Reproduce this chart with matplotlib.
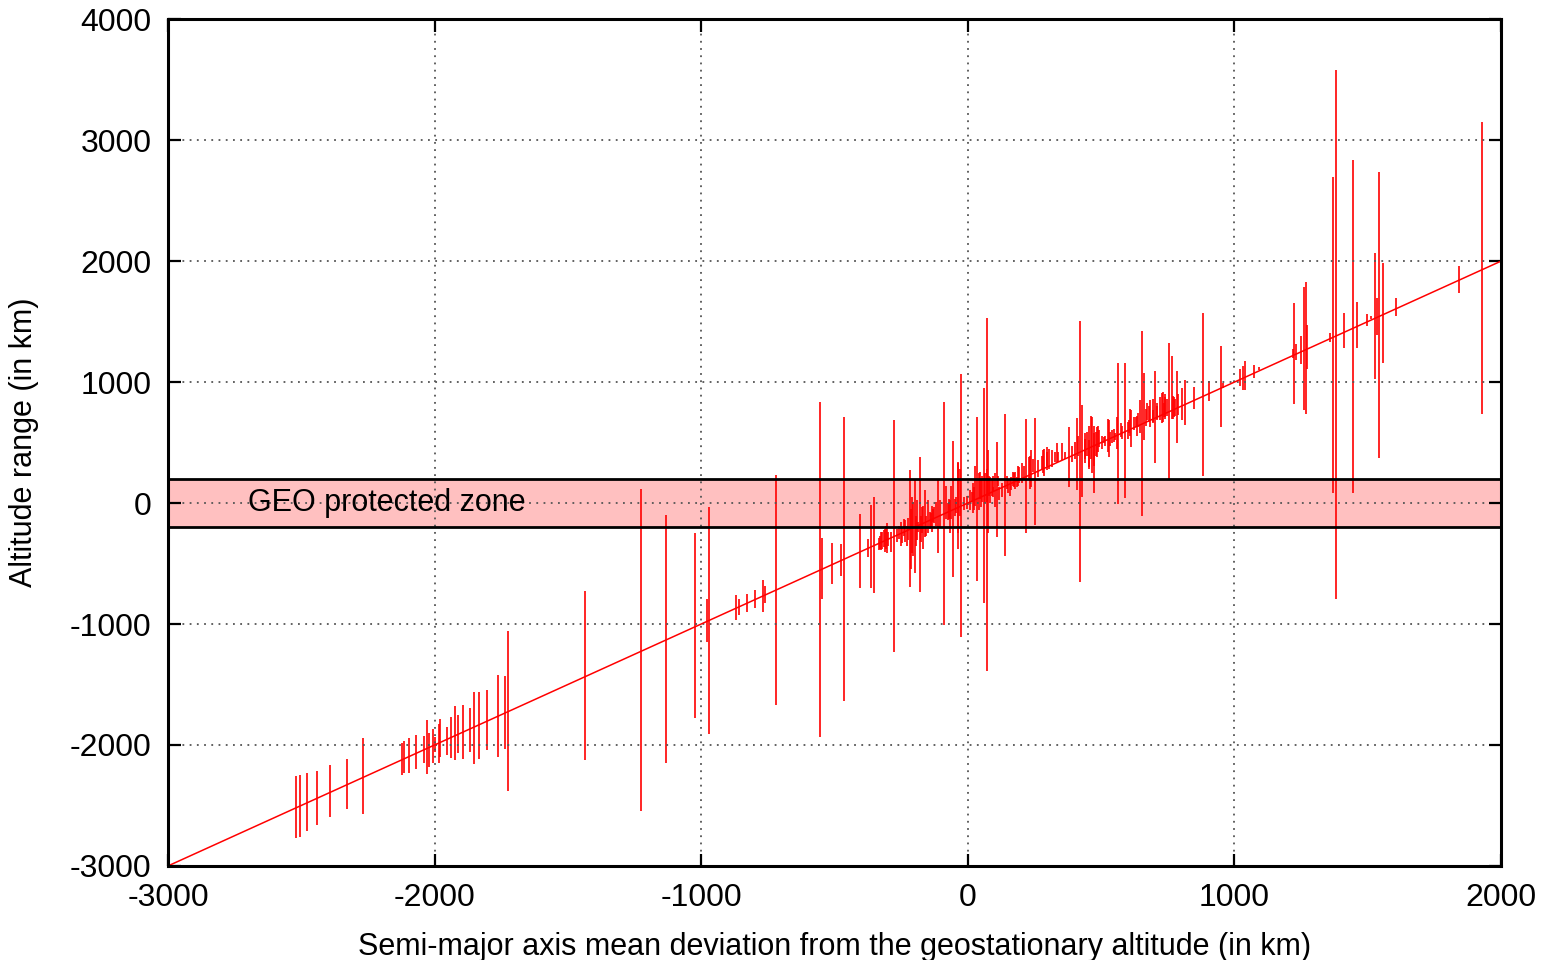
import matplotlib
matplotlib.use("Agg")
import matplotlib.pyplot as plt

plt.rcParams['font.family'] = ['Liberation Sans', 'DejaVu Sans']
plt.rcParams['axes.unicode_minus'] = False

# --- data ---
# vertical bars: x position, lower and upper altitude (km)
bar_x = [-2521, -2506, -2479, -2440, -2391, -2329, -2267, -2122, -2113, -2097,
         -2069, -2039, -2029, -2020, -2007, -2000, -1982, -1978, -1954, -1939,
         -1922, -1914, -1894, -1867, -1853, -1833, -1803, -1761, -1735, -1724,
         -1435, -1227, -1133, -1023, -978, -972, -869, -860, -830, -799,
         -770, -759, -720, -554, -548, -508, -477, -464,
         -404, -375, -364, -353, -335, -326, -314, -304, -287, -278,
         -248, -235, -225, -218, -210, -199, -189, -181, -173, -162,
         -150, -137, -128, -110, -104, -89, -75, -68, -54, -45,
         -35, -27, -16, 9, 18, 25, 34, 43, 50, 59,
         65, 73, 75, 84, 94, 103, 109, 118, 128, 140,
         150, 161, 173, 184, 193, 203, 219, 228, 238, 253,
         265, 281, 298, 315, 334, 353, 379, 409,
         422, 428, 440, 453, 465, 474, 484, 493, 509, 528,
         540, 553, 565, 574, 590, 603, 611, 622, 632, 640,
         647, 653, 659, 671, 684, 693, 701, 709, 719, 728,
         734, 740, 753, 765, 772, 784,
         789, 802, 814, 849, 882, 903, 949, 956, 1021, 1031,
         1040, 1073, 1093, 1218, 1222, 1231, 1251, 1260, 1267, 1272,
         1360, 1369, 1380, 1410, 1445, 1460, 1497, 1514, 1529, 1536,
         1542, 1556, 1605, 1843, 1928]
bar_lo = [-2769, -2760, -2711, -2661, -2595, -2529, -2570, -2248, -2231, -2231,
          -2198, -2149, -2240, -2182, -2149, -2058, -2149, -2099, -2083, -2107,
          -2124, -2066, -2116, -2058, -2157, -2116, -2041, -2099, -2033, -2380,
          -2124, -2550, -2150, -1777, -1149, -1909, -967, -926, -901, -868,
          -901, -826, -1669, -1934, -793, -669, -603, -1636,
          -702, -446, -702, -744, -388, -388, -364, -413, -405, -1231,
          -331, -322, -306, -694, -413, -578, -306, -736, -248, -281,
          -248, -198, -165, -413, -198, -1008, -140, -248, -612, -83,
          -248, -1107, -58, -58, -83, -58, -645, -58, -33, -826,
          0, -1388, -248, 0, 50, -33, -281, 25, 50, -438,
          83, 107, 132, 132, 165, 165, -248, 190, 132, -182,
          215, 248, 273, 298, 331, 355, 132, 107,
          -650, 50, 331, 298, 248, 83, 380, 463, 496, 380,
          496, 521, -8, 545, 41, 579, 463, 603, 628, 628,
          579, -107, 521, 686, 628, 661, 331, 686, 686, 661,
          711, 711, 198, 694, 711, 496,
          727, 689, 642, 781, 221, 844, 632, 948, 971, 933,
          933, 1034, 1097, 1195, 816, 1186, 1148, 768, 737, 1107,
          1334, 79, -790, 1280, 79, 1280, 1461, 1518, 1027, 1391,
          373, 1160, 1543, 1739, 737]
bar_hi = [-2256, -2248, -2231, -2215, -2166, -2116, -1942, -1983, -1967, -1942,
          -1917, -1926, -1793, -1901, -1868, -1934, -1826, -1785, -1851, -1768,
          -1677, -1752, -1669, -1694, -1562, -1562, -1545, -1421, -1430, -1058,
          -730, 116, -99, -248, -793, -33, -760, -793, -752, -719,
          -636, -686, 231, 835, -289, -331, -339, 711,
          -91, -298, -17, 50, -289, -240, -223, -165, -240, 686,
          -198, -140, -124, 273, 50, 190, 25, 380, -33, 107,
          25, -83, -33, 190, 25, 835, 0, 25, 512, 50,
          331, 1066, 50, 107, 165, 132, 711, 248, 190, 950,
          248, 1530, 438, 215, 132, 248, 504, 132, 165, 735,
          190, 215, 248, 215, 298, 331, 694, 380, 438, 702,
          355, 438, 463, 438, 496, 496, 628, 702,
          1504, 810, 579, 521, 711, 579, 628, 603, 545, 686,
          603, 579, 1157, 661, 1157, 686, 769, 711, 711, 744,
          851, 1421, 1074, 826, 851, 769, 1091, 826, 876, 909,
          826, 876, 1322, 1217, 876, 1091,
          904, 955, 1021, 958, 1574, 1005, 1296, 996, 1107, 1132,
          1176, 1138, 1122, 1277, 1653, 1312, 1385, 1786, 1827, 1470,
          1407, 2694, 3582, 1574, 2836, 1660, 1565, 1549, 2071, 1698,
          2735, 1982, 1691, 1960, 3149]

# short bars packed around the zero crossing (-330 .. 800 km)
dense_x = [-329, -323, -312, -307, -300, -266, -257, -250, -241, -227,
           -212, -207, -195, -188, -175, -170, -158, -141, -135, -129, -120,
           -83, -72, -62, -47, -35, -29, -4, 15, 28, 47, 53, 71, 78, 90, 96,
           115, 146, 159, 169, 178, 190, 212, 234, 244, 278, 287, 296, 305,
           328, 340, 365, 390, 403, 413, 438, 446, 455, 463, 472, 480, 490,
           503, 515, 525, 534, 547, 559, 578, 600, 609, 634, 669, 678, 694,
           711, 731, 738, 746, 769, 778]
dense_lo = [-380, -380, -405, -380, -353, -322, -297, -353, -270, -353,
            -545, -435, -353, -240, -322, -380, -270, -215, -240, -157, -187,
            -132, -132, -132, -105, -380, -105, -50, 8, -22, 33, 8, 8, 60, 60, 91,
            143, 116, 60, 143, 116, 143, 198, 116, 256, 281, 225, 308, 281,
            339, 339, 363, 339, 363, 391, 363, 391, 281, 363, 308, 391, 421,
            446, 473, 421, 473, 504, 446, 529, 529, 556, 556, 638, 669, 669,
            694, 669, 694, 721, 694, 721]
dense_hi = [-270, -240, -215, -187, -240, -215, -187, -157, -132, -187,
            -50, 8, -105, -157, -105, -22, -105, -74, -22, -50, 8,
            143, 33, 143, 33, 339, 281, 60, 91, 308, 256, 225, 281, 225, 198, 225,
            225, 225, 198, 256, 256, 308, 308, 391, 363, 391, 446, 421, 446,
            421, 421, 421, 473, 504, 556, 529, 586, 638, 721, 638, 586, 638,
            556, 556, 694, 586, 611, 710, 638, 669, 776, 721, 776, 804, 859,
            804, 917, 900, 859, 886, 859]

# reference line (altitude = semi-major axis deviation)
line_x = [-3000, 2000]
line_y = [-3000, 2000]

zone_lo, zone_hi = -200, 200
x_ticks = [-3000, -2000, -1000, 0, 1000, 2000]
y_ticks = [-3000, -2000, -1000, 0, 1000, 2000, 3000, 4000]

fig = plt.figure(figsize=(15.6, 9.6), dpi=100)
ax = fig.add_axes([0.1077, 0.098, 0.8545, 0.882])

# GEO protected zone
ax.axhspan(zone_lo, zone_hi, facecolor='#ffc0c0', edgecolor='none', zorder=0.5)
ax.axhline(zone_hi, color='black', lw=2, zorder=4)
ax.axhline(zone_lo, color='black', lw=2, zorder=4)
ax.text(-2700, 0, "GEO protected zone", fontsize=22, ha='left', va='center', zorder=5)

ax.vlines(bar_x, bar_lo, bar_hi, colors='#ff0000', lw=1.2, zorder=2)
ax.vlines(dense_x, dense_lo, dense_hi, colors='#ff0000', lw=1.2, zorder=2)
ax.plot(line_x, line_y, color='#ff0000', lw=1.1, zorder=3)

ax.set_xlim(-3000, 2000)
ax.set_ylim(-3000, 4000)
ax.set_xticks(x_ticks)
ax.set_yticks(y_ticks)
ax.grid(True, color='#555555', linestyle=(0, (1, 3)), lw=1.3, zorder=1)
ax.set_axisbelow(False)

ax.tick_params(direction='in', length=9, width=1.6, labelsize=23,
               top=True, right=True, pad=12)
for spine in ax.spines.values():
    spine.set_linewidth(2.2)
    spine.set_zorder(6)

ax.set_xlabel("Semi-major axis mean deviation from the geostationary altitude (in km)",
              fontsize=22, labelpad=14)
ax.set_ylabel("Altitude range (in km)", fontsize=22, labelpad=22)

fig.savefig("out.png", dpi=100, facecolor='white')
